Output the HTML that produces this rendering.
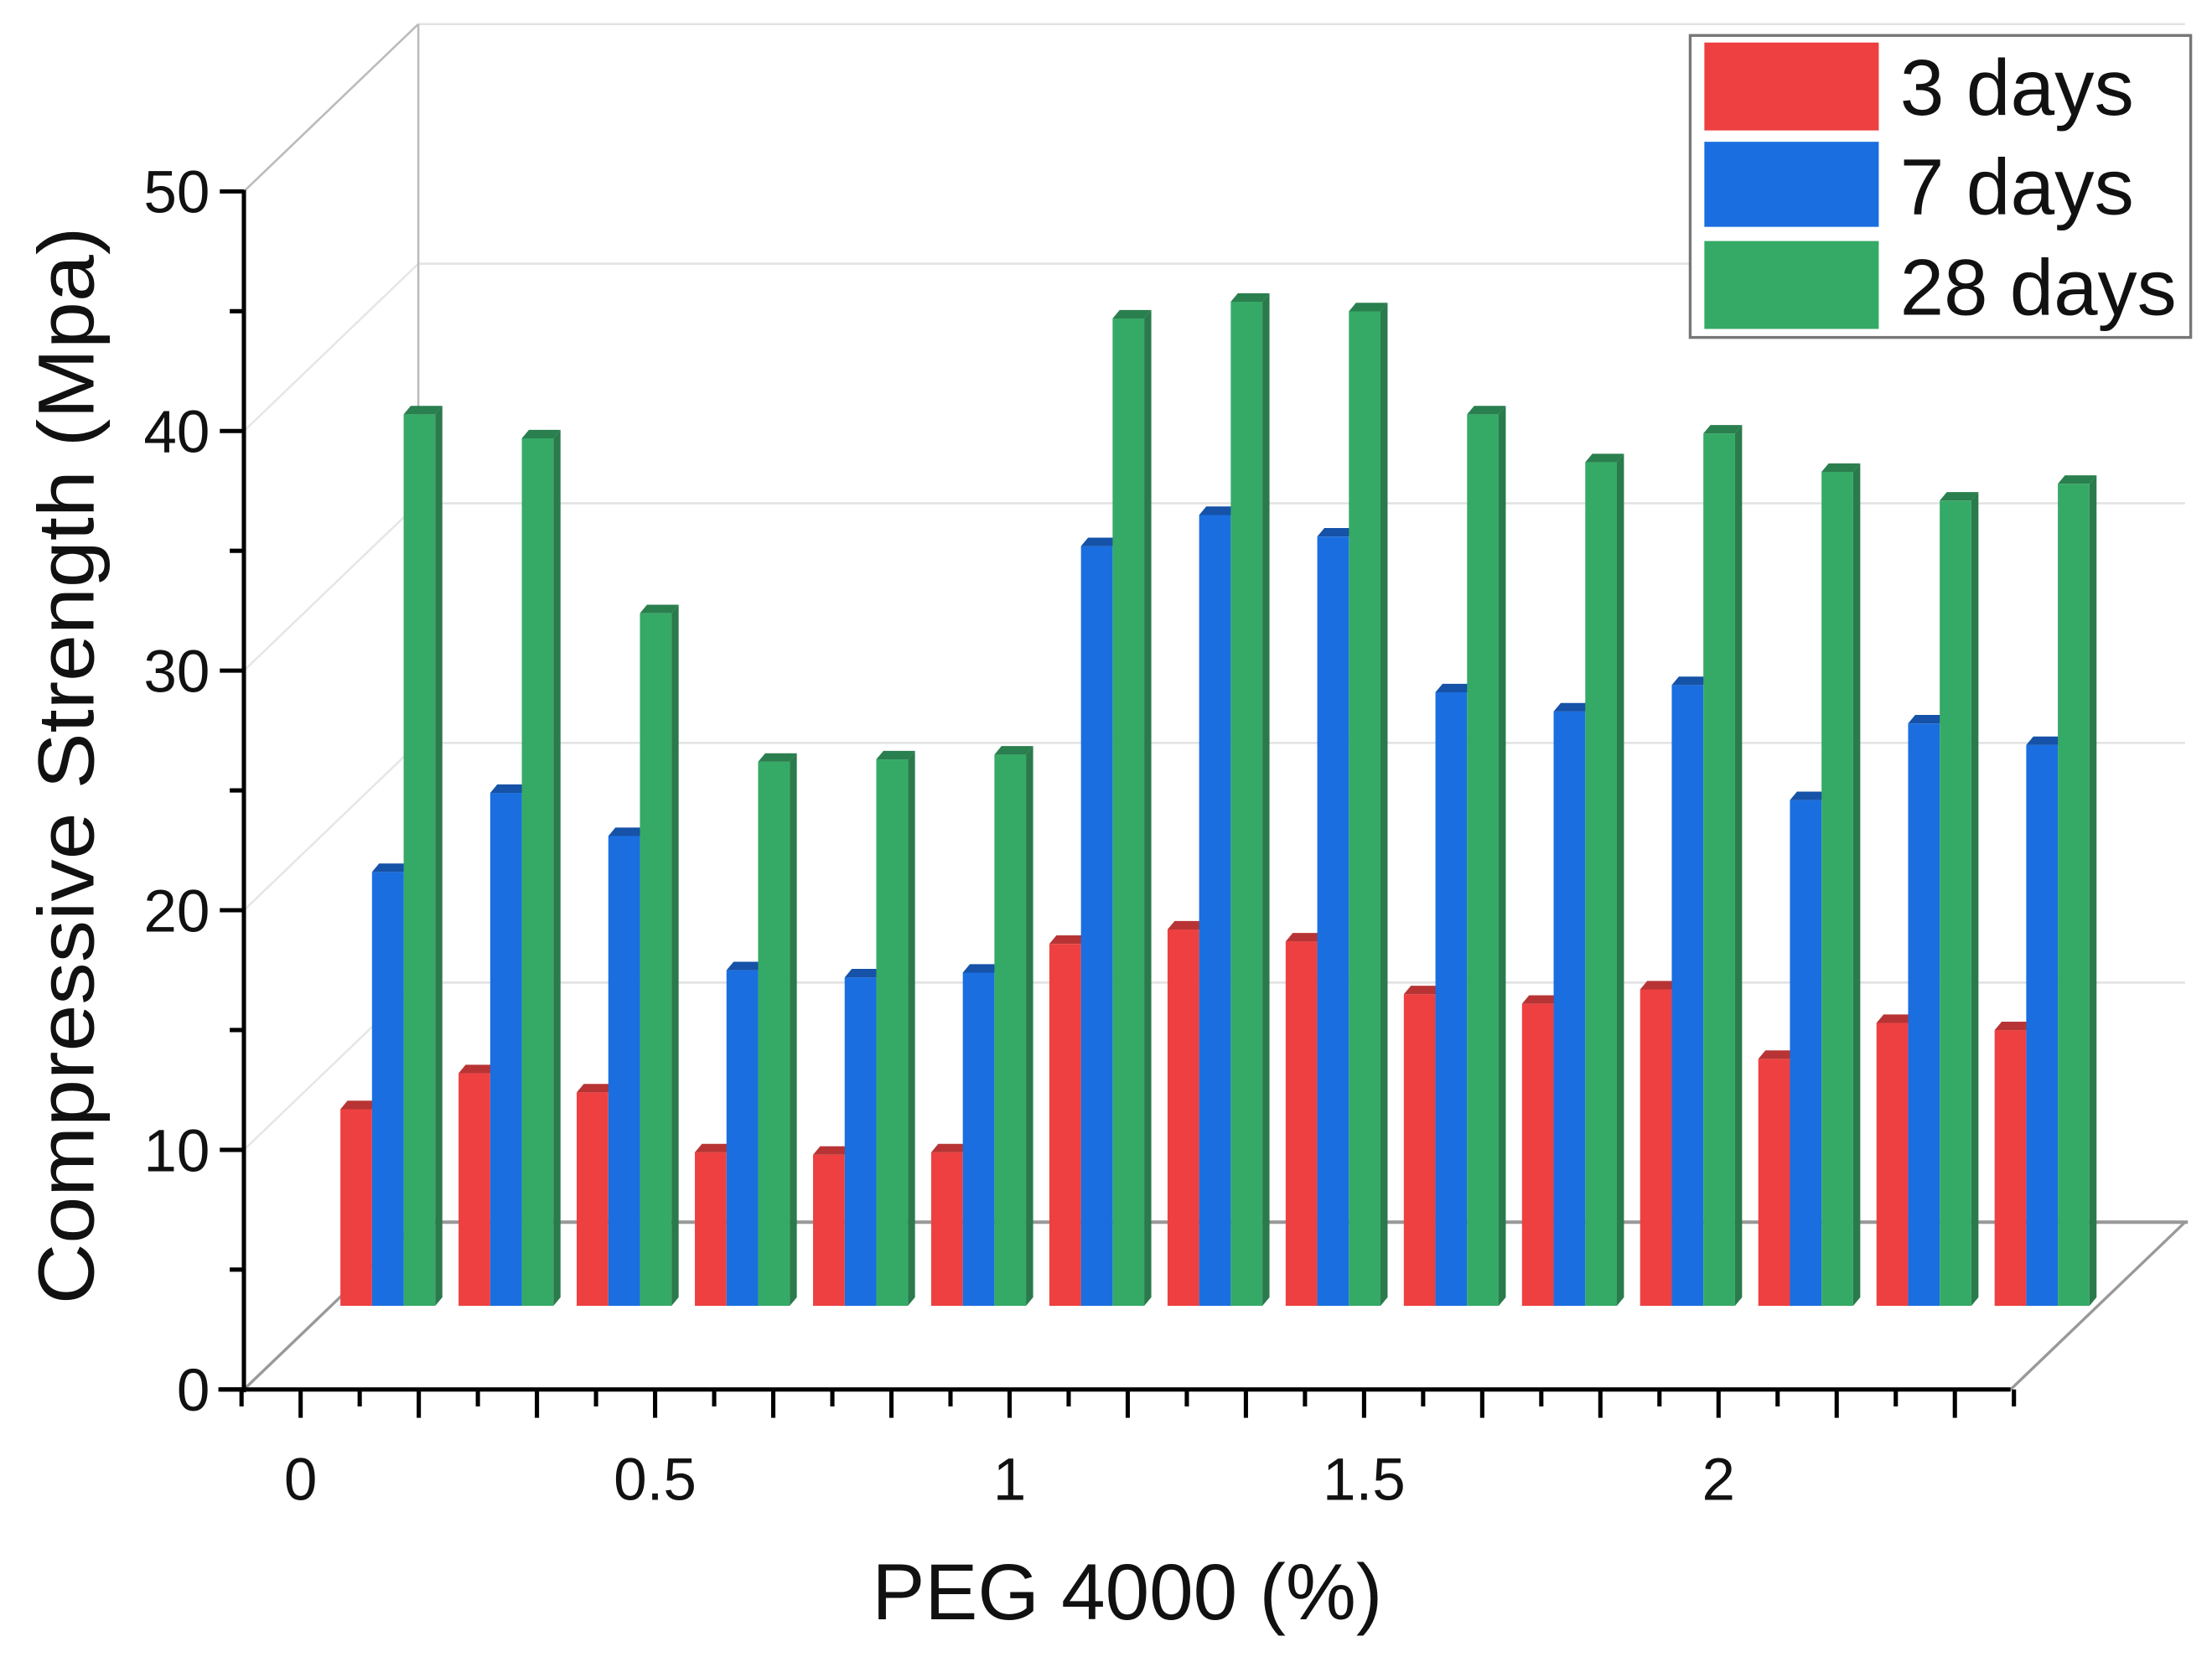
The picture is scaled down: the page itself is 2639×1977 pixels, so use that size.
<!DOCTYPE html>
<html><head><meta charset="utf-8"><style>
html,body{margin:0;padding:0;background:#fff;}
svg{display:block;}
text{font-family:"Liberation Sans",sans-serif;fill:#111;}
</style></head><body>
<svg id="chart" width="2639" height="1977" viewBox="0 0 1560 1168.7" xmlns="http://www.w3.org/2000/svg">
<g id="frame"></g>
<g id="bars"></g>
<g id="axes"></g>
<g>
  <rect x="1192" y="25" width="353" height="213" fill="#fff" stroke="#777" stroke-width="2"/>
  <rect x="1202" y="30" width="123" height="62" fill="#ee4040"/>
  <rect x="1202" y="100" width="123" height="60" fill="#1a6ee0"/>
  <rect x="1202" y="170" width="123" height="62" fill="#35aa66"/>
  <text x="1340" y="81" font-size="56" textLength="165" lengthAdjust="spacingAndGlyphs">3 days</text>
  <text x="1340" y="151" font-size="56" textLength="165" lengthAdjust="spacingAndGlyphs">7 days</text>
  <text x="1340" y="222" font-size="56" textLength="195" lengthAdjust="spacingAndGlyphs">28 days</text>
</g>
<text transform="translate(66,540) rotate(-90)" text-anchor="middle" font-size="56" textLength="760" lengthAdjust="spacingAndGlyphs">Compressive Strength (Mpa)</text>
<text x="795" y="1142" text-anchor="middle" font-size="56" textLength="360" lengthAdjust="spacingAndGlyphs">PEG 4000 (%)</text>
</svg>
<script>
const categories = [0, 0.1667, 0.3333, 0.5, 0.6667, 0.8333, 1, 1.1667, 1.3333, 1.5, 1.6667, 1.8333, 2, 2.1667, 2.3333];
const days3 = [8.5, 10.0, 9.2, 6.7, 6.6, 6.7, 15.4, 16.0, 15.5, 13.3, 12.9, 13.5, 10.6, 12.1, 11.8];
const days7 = [18.4, 21.7, 19.9, 14.3, 14.0, 14.2, 32.0, 33.3, 32.4, 25.9, 25.1, 26.2, 21.4, 24.6, 23.7];
const days28 = [37.5, 36.5, 29.2, 23.0, 23.1, 23.3, 41.5, 42.2, 41.8, 37.5, 35.5, 36.7, 35.1, 33.9, 34.6];
const yTicks = [0, 10, 20, 30, 40, 50];
const xTickLabels = ["0", "0.5", "1", "1.5", "2"];
const xTickValues = [0, 0.5, 1, 1.5, 2];

const NS = "http://www.w3.org/2000/svg";
const X0 = 172, Y0 = 980, XR = 1418, PXU = 16.9, DX = 123, DY = -118;
function xs(v){ return 212 + v * 500; }
function ys(v){ return Y0 - v * PXU; }
function mk(tag, attrs, parent){
  const e = document.createElementNS(NS, tag);
  for (const k in attrs) e.setAttribute(k, attrs[k]);
  parent.appendChild(e); return e;
}
const frame = document.getElementById('frame');
const axes = document.getElementById('axes');
const bars = document.getElementById('bars');

// back wall gridlines and left wall diagonals
for (const t of yTicks) {
  if (t === 0) continue;
  const g = mk('line', {x1: X0+DX, y1: ys(t)+DY, x2: XR+DX, y2: ys(t)+DY, stroke: '#e2e2e2', 'stroke-width': 1.5}, frame);
  
  
  const d = mk('line', {x1: X0, y1: ys(t), x2: X0+DX, y2: ys(t)+DY, stroke: '#e6e6e6', 'stroke-width': 1.5}, frame);
  
  
}
const backV = mk('line', {x1: X0+DX, y1: ys(50)+DY, x2: X0+DX, y2: Y0+DY, stroke: '#bbb', 'stroke-width': 1.5}, frame);


const topD = mk('line', {x1: X0, y1: ys(50), x2: X0+DX, y2: ys(50)+DY, stroke: '#bbb', 'stroke-width': 1.5}, frame);


const floorB = mk('line', {x1: X0+DX, y1: Y0+DY, x2: XR+DX+2, y2: Y0+DY, stroke: '#999', 'stroke-width': 2.5}, frame);


const floorL = mk('line', {x1: X0, y1: Y0, x2: X0+DX, y2: Y0+DY, stroke: '#999', 'stroke-width': 2}, frame);


const floorR = mk('line', {x1: XR, y1: Y0, x2: XR+DX, y2: Y0+DY, stroke: '#999', 'stroke-width': 2}, frame);



// bars
const series = [
  {vals: days3, face: '#ee4040', top: '#b83434', side: '#a83030', name: '3-days'},
  {vals: days7, face: '#1a6ee0', top: '#1552a8', side: '#124a98', name: '7-days'},
  {vals: days28, face: '#35aa66', top: '#2a7f4e', side: '#2a7a4c', name: '28-days'}
];
const BW = 22.3, mid = 0.5, baseY = Y0 + DY*mid, off = DX*mid;
categories.forEach((c, i) => {
  const cx = xs(c) + off;
  const left = cx - 1.5*BW;
  series.forEach((s, j) => {
    const v = s.vals[i];
    const x = left + j*BW, yt = baseY - v*PXU + 5;
    const r = mk('rect', {x: x, y: yt, width: BW, height: baseY - yt, fill: s.face}, bars);
    
    
    const tp = mk('polygon', {points: `${x},${yt} ${x+5},${yt-6} ${x+BW+5},${yt-6} ${x+BW},${yt}`, fill: s.top}, bars);
    
    
    if (j === 2) {
      const sd = mk('polygon', {points: `${x+BW},${yt} ${x+BW+5},${yt-6} ${x+BW+5},${baseY-6} ${x+BW},${baseY}`, fill: s.side}, bars);
      
      
    }
  });
});

// front axes
const ya = mk('line', {x1: X0, y1: ys(50)-1, x2: X0, y2: Y0+2, stroke: '#000', 'stroke-width': 3}, axes);


const xa = mk('line', {x1: X0-18, y1: Y0, x2: XR, y2: Y0, stroke: '#000', 'stroke-width': 3}, axes);


for (let v = 0; v <= 50; v += 5) {
  const major = v % 10 === 0;
  const t = mk('line', {x1: X0 - (major ? 17 : 10), y1: ys(v), x2: X0, y2: ys(v), stroke: '#000', 'stroke-width': 3}, axes);
  
  
}
yTicks.forEach(v => {
  const t = mk('text', {x: 148, y: ys(v) + 15, 'text-anchor': 'end', 'font-size': 42}, axes);
  t.textContent = String(v);
  
  
});
for (let k = -1; k <= 29; k++) {
  const x = xs(k / 12);
  if (x > XR + 3) continue;
  const long = k % 2 === 0;
  const t = mk('line', {x1: x, y1: Y0, x2: x, y2: Y0 + (long ? 20 : 12), stroke: '#000', 'stroke-width': 3}, axes);
  
  
}
xTickValues.forEach((v, i) => {
  const t = mk('text', {x: xs(v), y: 1058, 'text-anchor': 'middle', 'font-size': 42}, axes);
  t.textContent = xTickLabels[i];
  
  
});
</script>
</body></html>
